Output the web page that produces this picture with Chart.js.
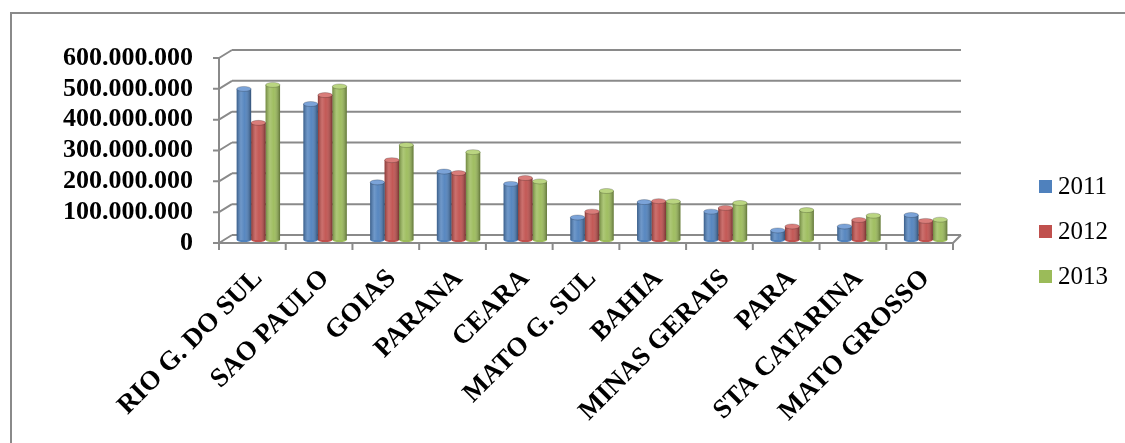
<!DOCTYPE html>
<html>
<head>
<meta charset="utf-8">
<title>Produção por estado</title>
<script src="https://cdn.jsdelivr.net/npm/chart.js@4.4.0/dist/chart.umd.min.js"></script>
<style>
  html, body { margin: 0; padding: 0; background: #fff; }
  #wrap { position: relative; width: 1125px; height: 443px; overflow: hidden; }
  #frame { position: absolute; left: 10px; top: 12px; right: -10px; bottom: -10px;
           border-top: 2px solid #8a8a8a; border-left: 2px solid #8a8a8a; }
  #chart { position: absolute; left: 0; top: 0; }
  #legend { position: absolute; left: 1039px; top: 0;
            font-family: 'Liberation Serif', 'Times New Roman', serif; font-size: 25px; color: #000; }
  .item { position: absolute; left: 0; height: 30px; display: flex; align-items: center; white-space: nowrap; }
  .sw { width: 13px; height: 13px; margin-right: 6px; }
</style>
</head>
<body>
<div id="wrap">
  <div id="frame"></div>
  <canvas id="chart" width="1125" height="443"></canvas>
  <div id="legend"></div>
</div>
<script>
// valores por estado e ano
const ESTADOS = ['RIO G. DO SUL', 'SAO PAULO', 'GOIAS', 'PARANA', 'CEARA', 'MATO G. SUL',
                 'BAHIA', 'MINAS GERAIS', 'PARA', 'STA CATARINA', 'MATO GROSSO'];
const ANOS = ['2011', '2012', '2013'];
const V2011 = [490000000, 441000000, 187000000, 222000000, 182000000, 73000000,
               123000000, 92000000, 31000000, 44000000, 81000000];
const V2012 = [380000000, 470000000, 259000000, 217000000, 201000000, 92000000,
               126000000, 104000000, 44000000, 65000000, 62000000];
const V2013 = [503000000, 498000000, 308000000, 285000000, 190000000, 159000000,
               125000000, 120000000, 97000000, 79000000, 66000000];
const Y_TICKS = [0, 100000000, 200000000, 300000000, 400000000, 500000000, 600000000];

const CORES = ['#4F81BD', '#C0504D', '#9BBB59'];
const TOPOS = ['#7BA3D8', '#D97D7A', '#BAD581'];
const SERIF = "'Liberation Serif', 'Times New Roman', serif";

// deslocamentos da parede do fundo e da frente (efeito 3D)
const DX = 7, DY = -5, FX = -6, FY = 3;
const GRADE = '#8a8a8a';

function milhar(v) {
  return String(v).replace(/\B(?=(\d{3})+(?!\d))/g, '.');
}

const paredes = {
  id: 'paredes',
  beforeDatasetsDraw(chart) {
    const { ctx, chartArea: a, scales: { y } } = chart;
    const y0 = y.getPixelForValue(0);
    const yTop = y.getPixelForValue(Y_TICKS[Y_TICKS.length - 1]);
    ctx.save();
    ctx.strokeStyle = GRADE;
    ctx.lineWidth = 2;
    ctx.beginPath();
    Y_TICKS.forEach(v => {
      const py = y.getPixelForValue(v);
      // linha da grade na parede do fundo
      ctx.moveTo(a.left + DX, py + DY);
      ctx.lineTo(a.right + 2, py + DY);
      // ligação com o eixo da frente
      ctx.moveTo(a.left + FX, py + FY);
      ctx.lineTo(a.left + DX, py + DY);
      // marca do eixo
      ctx.moveTo(a.left + FX - 6, py + FY);
      ctx.lineTo(a.left + FX, py + FY);
    });
    // eixo vertical da frente
    ctx.moveTo(a.left + FX, yTop + FY);
    ctx.lineTo(a.left + FX, y0 + FY);
    // borda da frente do piso
    ctx.moveTo(a.left + FX, y0 + FY);
    ctx.lineTo(a.right + FX, y0 + FY);
    ctx.lineTo(a.right + 2, y0 + DY);
    // marcas das categorias
    const n = ESTADOS.length;
    const passo = (a.right - a.left) / n;
    for (let i = 0; i <= n; i++) {
      const px = a.left + FX + i * passo;
      ctx.moveTo(px, y0 + FY);
      ctx.lineTo(px, y0 + FY + 7);
    }
    ctx.stroke();
    ctx.restore();
  }
};

// sombreamento cilíndrico das barras
const cilindros = {
  id: 'cilindros',
  afterDatasetsDraw(chart) {
    const ctx = chart.ctx;
    chart.data.datasets.forEach((ds, di) => {
      const meta = chart.getDatasetMeta(di);
      meta.data.forEach(el => {
        const { x, y, base, width } = el.getProps(['x', 'y', 'base', 'width'], true);
        const l = x - width / 2;
        const g = ctx.createLinearGradient(l, 0, l + width, 0);
        g.addColorStop(0, 'rgba(0,0,0,0.28)');
        g.addColorStop(0.3, 'rgba(255,255,255,0.18)');
        g.addColorStop(0.55, 'rgba(255,255,255,0.05)');
        g.addColorStop(1, 'rgba(0,0,0,0.38)');
        ctx.save();
        ctx.fillStyle = g;
        ctx.fillRect(l, y, width, base - y);
        // base arredondada
        ctx.beginPath();
        ctx.ellipse(x, base, width / 2, 2, 0, 0, Math.PI);
        ctx.fillStyle = CORES[di];
        ctx.fill();
        // tampa
        ctx.beginPath();
        ctx.ellipse(x, y, width / 2, 2.5, 0, 0, Math.PI * 2);
        ctx.fillStyle = TOPOS[di];
        ctx.fill();
        ctx.strokeStyle = 'rgba(0,0,0,0.25)';
        ctx.lineWidth = 0.8;
        ctx.stroke();
        ctx.restore();
      });
    });
  }
};

const series = [V2011, V2012, V2013];

new Chart(document.getElementById('chart'), {
  type: 'bar',
  data: {
    labels: ESTADOS,
    datasets: series.map((s, i) => ({
      label: ANOS[i],
      data: s,
      backgroundColor: CORES[i],
      borderWidth: 0,
      categoryPercentage: 0.65,
      barPercentage: 1.0
    }))
  },
  options: {
    responsive: false,
    animation: false,
    layout: { padding: { top: 55, right: 166, left: 0, bottom: 0 } },
    plugins: {
      legend: { display: false },
      tooltip: { enabled: false }
    },
    scales: {
      x: {
        grid: { display: false },
        border: { display: false },
        ticks: {
          autoSkip: false,
          maxRotation: 45,
          minRotation: 45,
          padding: 15,
          color: '#000',
          font: { family: SERIF, size: 27, weight: 'bold' }
        },
        afterFit: s => { s.height = 443 - 55 - 185; }
      },
      y: {
        min: 0,
        max: 600000000,
        grid: { display: false, drawTicks: false },
        border: { display: false },
        afterBuildTicks: s => { s.ticks = Y_TICKS.map(v => ({ value: v })); },
        afterFit: s => { s.width = 225; },
        ticks: {
          autoSkip: false,
          padding: 32,
          labelOffset: 3,
          color: '#000',
          font: { family: SERIF, size: 26, weight: 'bold' },
          callback: v => milhar(v)
        }
      }
    }
  },
  plugins: [paredes, cilindros]
});

// legenda à direita
const leg = document.getElementById('legend');
const centros = [186, 231, 276];
ANOS.forEach((ano, i) => {
  const it = document.createElement('div');
  it.className = 'item';
  it.style.top = (centros[i] - 15) + 'px';
  it.innerHTML = '<span class="sw" style="background:' + CORES[i] + '"></span><span>' + ano + '</span>';
  leg.appendChild(it);
});
</script>
</body>
</html>
